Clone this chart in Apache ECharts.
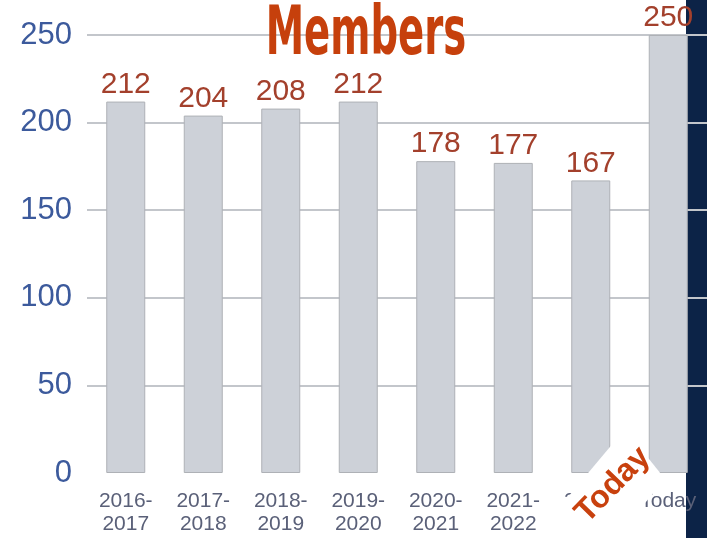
<!DOCTYPE html>
<html>
<head>
<meta charset="utf-8">
<script src="https://cdn.jsdelivr.net/npm/echarts@6/dist/echarts.min.js"></script>
<style>
  html, body { margin: 0; padding: 0; background: #fff; }
  #main { width: 707px; height: 538px; }
</style>
</head>
<body>
<div id="main"></div>
<script>
// 数据
var categories = ['2016-\n2017', '2017-\n2018', '2018-\n2019', '2019-\n2020', '2020-\n2021', '2021-\n2022', '2022-\n2023', 'Today'];
var members = [212, 204, 208, 212, 178, 177, 167, 250];
var yTicks = [0, 50, 100, 150, 200, 250];

(function() {
    var myechart = echarts.init(document.getElementById('main'));
    // 0 那条线不画
    var lineColors = yTicks.map(function(v) { return v === 0 ? 'rgba(0,0,0,0)' : '#c3c6cb'; });
    var option = {
        animation: false,
        grid: { left: 87, right: 0, top: 35, bottom: 65 },
        xAxis: {
            type: 'category',
            data: categories,
            axisLine: { show: false },
            axisTick: { show: false },
            axisLabel: {
                color: '#5a6078',
                fontSize: 21,
                lineHeight: 23,
                margin: 17,
                fontFamily: 'Liberation Sans'
            }
        },
        yAxis: {
            type: 'value',
            min: yTicks[0],
            max: yTicks[yTicks.length - 1],
            interval: 50,
            axisLine: { show: false },
            axisTick: { show: false },
            axisLabel: {
                color: '#3c5a9c',
                fontSize: 31,
                margin: 15,
                fontFamily: 'Liberation Sans'
            },
            splitLine: { lineStyle: { color: lineColors, width: 2 } }
        },
        series: [{
            type: 'bar',
            data: members,
            barWidth: 39,
            itemStyle: { color: '#cdd1d8', borderColor: '#aeb1b6', borderWidth: 1 },
            label: {
                show: true,
                position: 'top',
                distance: 2,
                color: '#a3402c',
                fontSize: 30,
                fontFamily: 'Liberation Sans'
            }
        }],
        graphic: [
            // 右边深色条
            {
                type: 'rect',
                z: -10,
                shape: { x: 686, y: 0, width: 21, height: 538 },
                style: { fill: '#0c2347' }
            },
            // 标题
            {
                type: 'text',
                z: 100,
                x: 366,
                y: 3,
                scaleX: 0.64,
                style: {
                    text: 'Members',
                    fill: '#c6400c',
                    font: 'bold 67px "Liberation Sans Narrow", "DejaVu Sans Condensed", sans-serif',
                    align: 'center',
                    verticalAlign: 'top'
                }
            },
            // Today 白底
            {
                type: 'polygon',
                z: 100,
                shape: { points: [[625, 429], [665, 479], [563, 602], [521, 553]] },
                style: { fill: '#fff' }
            },
            // Today 斜字
            {
                type: 'text',
                z: 101,
                x: 613,
                y: 485,
                rotation: 0.8,
                style: {
                    text: 'Today',
                    fill: '#c8410e',
                    font: 'bold 32px "Liberation Sans", sans-serif',
                    align: 'center',
                    verticalAlign: 'middle'
                }
            }
        ]
    };
    myechart.setOption(option);
})();
</script>
</body>
</html>
